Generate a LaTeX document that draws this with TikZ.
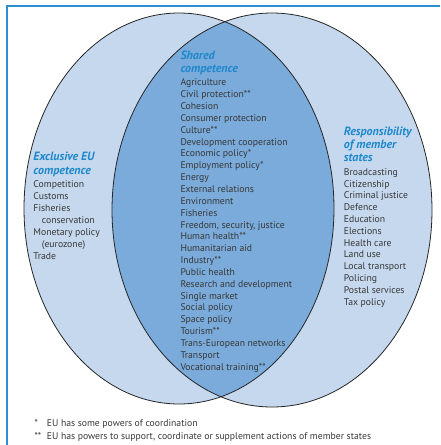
\documentclass[tikz,border=0pt]{standalone}
\usepackage{fontspec}
\setmainfont{PT Sans}
\definecolor{lightblue}{RGB}{197,216,238}
\definecolor{darkblue}{RGB}{122,171,218}
\definecolor{titleblue}{RGB}{30,136,204}
\definecolor{framebl}{RGB}{44,143,209}
\definecolor{bodygray}{RGB}{55,55,55}
\begin{document}
\begin{tikzpicture}[x=1pt,y=-1pt,
  outline/.style={draw=black!85,line width=0.8pt},
  ttl/.style={anchor=base west,inner sep=0pt,text=titleblue,font=\fontsize{12}{13}\selectfont\bfseries\itshape},
  item/.style={anchor=base west,inner sep=0pt,text=bodygray,font=\fontsize{9.7}{11.8}\selectfont},
  foot/.style={anchor=base west,inner sep=0pt,text=bodygray,font=\fontsize{9.7}{11}\selectfont}]
\useasboundingbox (0,0) rectangle (440,445);
% frame
\draw[framebl,line width=1.2pt] (7,445) -- (7,6) -- (440,6);
% ellipses
\fill[lightblue] (179,208.5) ellipse [x radius=155,y radius=195.5];
\fill[lightblue] (272,210) ellipse [x radius=160,y radius=197];
\begin{scope}
  \clip (179,208.5) ellipse [x radius=155,y radius=195.5];
  \fill[darkblue] (272,210) ellipse [x radius=160,y radius=197];
\end{scope}
\draw[outline] (179,208.5) ellipse [x radius=155,y radius=195.5];
\draw[outline] (272,210) ellipse [x radius=160,y radius=197];
% shared
\node[ttl] (st1) at (180.3,59) {Shared};
\node[ttl] (st2) at (180.3,72.5) {competence};
\foreach \t [count=\i from 0] in {Agriculture,Civil protection**,Cohesion,Consumer protection,Culture**,Development cooperation,Economic policy*,Employment policy*,Energy,External relations,Environment,Fisheries,{Freedom, security, justice},Human health**,Humanitarian aid,Industry**,Public health,Research and development,Single market,Social policy,Space policy,Tourism**,Trans-European networks,Transport,Vocational training**}
  \node[item] (s\i) at (180.3,85.8+11.85*\i) {\t};
% exclusive
\node[ttl] (et1) at (33.3,160.7) {Exclusive EU};
\node[ttl] (et2) at (33.3,174) {competence};
\node[item] (e0) at (33.3,187.8) {Competition};
\node[item] (e1) at (33.3,199.7) {Customs};
\node[item] (e2) at (33.3,211.6) {Fisheries};
\node[item] (e3) at (41.7,223.5) {conservation};
\node[item] (e4) at (33.3,235.4) {Monetary policy};
\node[item] (e5) at (41.7,247.3) {(eurozone)};
\node[item] (e6) at (33.3,259.2) {Trade};
% responsibility
\node[ttl] (rt1) at (343.7,135) {Responsibility};
\node[ttl] (rt2) at (343.7,148.3) {of member};
\node[ttl] (rt3) at (343.7,161.2) {states};
\foreach \t [count=\i from 0] in {Broadcasting,Citizenship,Criminal justice,Defence,Education,Elections,Health care,Land use,Local transport,Policing,Postal services,Tax policy}
  \node[item] (r\i) at (343.7,175.2+11.82*\i) {\t};
% footnotes
\node[foot] (f1a) at (34.3,426.8) {*};
\node[foot] (f1b) at (46.7,426.8) {EU has some powers of coordination};
\node[foot] (f2a) at (34.3,439.2) {**};
\node[foot] (f2b) at (46.7,439.2) {EU has powers to support, coordinate or supplement actions of member states};
\end{tikzpicture}
\end{document}
